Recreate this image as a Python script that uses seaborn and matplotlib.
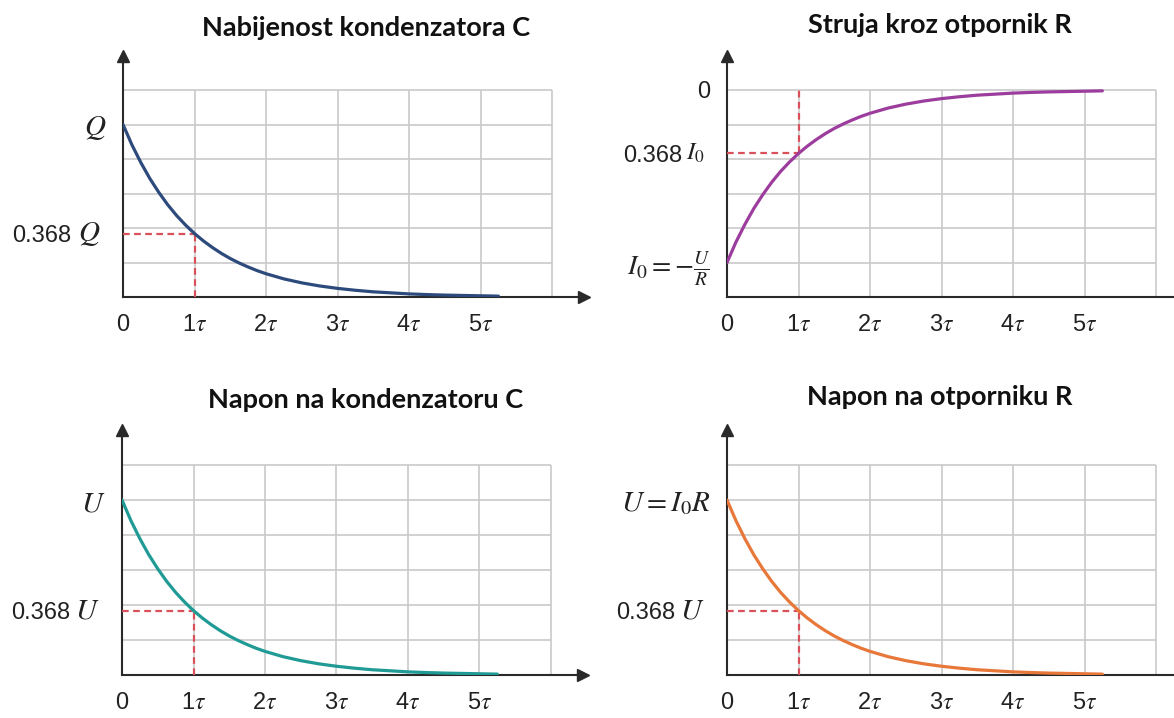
import matplotlib
matplotlib.use("Agg")
import matplotlib.pyplot as plt
import seaborn as sns

# vrijeme u jedinicama tau
t_tau = [0, 0.125, 0.25, 0.375, 0.5, 0.625, 0.75, 0.875, 1.0, 1.125, 1.25, 1.375, 1.5,
         1.625, 1.75, 1.875, 2.0, 2.25, 2.5, 2.75, 3.0, 3.25, 3.5, 3.75, 4.0, 4.25,
         4.5, 4.75, 5.0, 5.25]

# ocitane vrijednosti (udio od Q, I0, U)
naboj_q = [1.000, 0.882, 0.779, 0.687, 0.607, 0.535, 0.472, 0.417, 0.368, 0.325, 0.287,
           0.253, 0.223, 0.197, 0.174, 0.153, 0.135, 0.105, 0.082, 0.064, 0.050, 0.039,
           0.030, 0.024, 0.018, 0.014, 0.011, 0.009, 0.007, 0.005]
struja_i = [-1.000, -0.882, -0.779, -0.687, -0.607, -0.535, -0.472, -0.417, -0.368, -0.325, -0.287,
            -0.253, -0.223, -0.197, -0.174, -0.153, -0.135, -0.105, -0.082, -0.064, -0.050, -0.039,
            -0.030, -0.024, -0.018, -0.014, -0.011, -0.009, -0.007, -0.005]
napon_c = [1.000, 0.882, 0.779, 0.687, 0.607, 0.535, 0.472, 0.417, 0.368, 0.325, 0.287,
           0.253, 0.223, 0.197, 0.174, 0.153, 0.135, 0.105, 0.082, 0.064, 0.050, 0.039,
           0.030, 0.024, 0.018, 0.014, 0.011, 0.009, 0.007, 0.005]
napon_r = [1.000, 0.882, 0.779, 0.687, 0.607, 0.535, 0.472, 0.417, 0.368, 0.325, 0.287,
           0.253, 0.223, 0.197, 0.174, 0.153, 0.135, 0.105, 0.082, 0.064, 0.050, 0.039,
           0.030, 0.024, 0.018, 0.014, 0.011, 0.009, 0.007, 0.005]

x_ticks = [0, 1, 2, 3, 4, 5, 6]
x_labels = ["0", "1$\\tau$", "2$\\tau$", "3$\\tau$", "4$\\tau$", "5$\\tau$", ""]
y_grid_pos = [0, 0.2, 0.4, 0.6, 0.8, 1.0, 1.2]
y_grid_neg = [-1.2, -1.0, -0.8, -0.6, -0.4, -0.2, 0]

titles = ["Nabijenost kondenzatora C", "Struja kroz otpornik R",
          "Napon na kondenzatoru C", "Napon na otporniku R"]

sns.set_style("white")
plt.rcParams["font.family"] = ["Liberation Sans", "DejaVu Sans"]
plt.rcParams["mathtext.fontset"] = "stix"

W, H = 1174, 718
fig = plt.figure(figsize=(W / 100, H / 100), dpi=100)

GRID = "#c9c9c9"
AXC = "#2a2a2a"
RED = "#d9505a"
TXT = "#222222"


def panel(left, base, unit, t, vals, color, y_grid, big_labels, mark_y, mark_sym, mark_pad,
          title, title_xy):
    """
        Crta jedan panel: os sa strelicama, mreza, krivulja i crtkane linije za 1 tau
    """
    ax = fig.add_axes([left / W, (H - base) / H, 6.45 * 71.5 / W, 7 * unit / H])
    ax.set_xlim(0, 6.45)
    ax.set_ylim(y_grid[0], y_grid[-1] + 0.2)

    # mreza samo unutar 0..6 tau
    ax.hlines(y_grid[1:], 0, 6, color=GRID, lw=1.2, zorder=1)
    ax.vlines(x_ticks[1:], y_grid[0], y_grid[-1], color=GRID, lw=1.2, zorder=1)

    sns.lineplot(x=t, y=vals, ax=ax, color=color, lw=2.3, zorder=4)

    # crtkane linije na 1 tau
    ax.plot([0, 1], [mark_y, mark_y], color=RED, lw=1.6, ls=(0, (3, 2)), zorder=3)
    if mark_y > 0:
        ax.plot([1, 1], [y_grid[0], mark_y], color=RED, lw=1.6, ls=(0, (3, 2)), zorder=3)
    else:
        ax.plot([1, 1], [mark_y, y_grid[-1]], color=RED, lw=1.6, ls=(0, (3, 2)), zorder=3)

    for s in ["top", "right"]:
        ax.spines[s].set_visible(False)
    for s in ["left", "bottom"]:
        ax.spines[s].set_color(AXC)
        ax.spines[s].set_linewidth(1.5)
    ax.plot(1, 0, ">", color=AXC, ms=9, transform=ax.transAxes, clip_on=False)
    ax.plot(0, 1, "^", color=AXC, ms=9, transform=ax.transAxes, clip_on=False)

    ax.set_xticks(x_ticks, labels=x_labels)
    ax.set_yticks(y_grid, labels=[big_labels.get(v, ("", 17))[0] for v in y_grid])
    ax.set_yticks([mark_y], labels=["0.368"], minor=True)
    ax.tick_params(which="major", direction="out", length=8, width=1.3, color=AXC,
                   labelsize=17, labelcolor=TXT, pad=4)
    ax.tick_params(which="minor", axis="y", length=0, labelsize=17, labelcolor=TXT, pad=mark_pad)
    for v, lab in zip(y_grid, ax.get_yticklabels()):
        if v in big_labels:
            lab.set_fontsize(big_labels[v][1])
    ax.annotate(mark_sym, xy=(0, mark_y), xycoords=("axes fraction", "data"),
                xytext=(-16, 0), textcoords="offset points", ha="right", va="center",
                fontsize=21 if "_" not in mark_sym else 18, color=TXT)
    ax.set_xlabel("")
    ax.set_ylabel("")

    fig.text(title_xy[0] / W, 1 - title_xy[1] / H, title, ha="center", va="center",
             fontsize=19.5, fontweight="bold", family=["Lato", "DejaVu Sans"], color="#111111")
    return ax


panel(123, 297, 34.5, t_tau, naboj_q, "#2d4a7c", y_grid_pos, {1.0: ("$Q$", 21)},
      0.368, "$Q$", 37, titles[0], (366, 28))
panel(727, 297, 34.5, t_tau, struja_i, "#9c3d9e", y_grid_neg,
      {0: ("0", 17), -1.0: ("$I_0 = -\\frac{U}{R}$", 20)}, -0.368, "$I_0$", 32,
      titles[1], (940, 25))
panel(122, 675, 35, t_tau, napon_c, "#1f9a94", y_grid_pos, {1.0: ("$U$", 21)},
      0.368, "$U$", 37, titles[2], (366, 400))
panel(727, 675, 35, t_tau, napon_r, "#e8773a", y_grid_pos, {1.0: ("$U = I_0R$", 21)},
      0.368, "$U$", 37, titles[3], (940, 397))

fig.savefig("out.png", dpi=100)
